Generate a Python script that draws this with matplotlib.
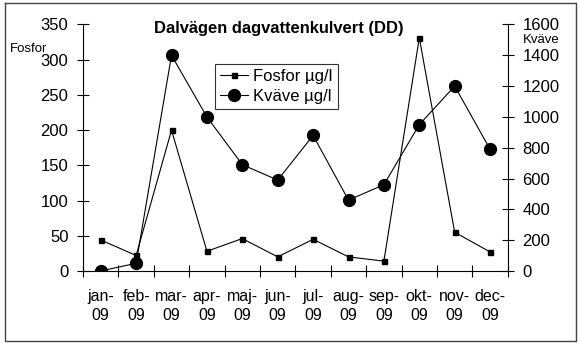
import numpy as np
import matplotlib
matplotlib.use("Agg")
import matplotlib.pyplot as plt
from matplotlib.lines import Line2D

plt.rcParams['font.family'] = ['Liberation Sans', 'DejaVu Sans']

# data
manader = ["jan-\n09", "feb-\n09", "mar-\n09", "apr-\n09", "maj-\n09", "jun-\n09",
           "jul-\n09", "aug-\n09", "sep-\n09", "okt-\n09", "nov-\n09", "dec-\n09"]
fosfor = [44, 22, 200, 28, 46, 20, 45, 20, 14, 331, 55, 27]
kvave = [0, 50, 1400, 1000, 690, 590, 880, 460, 560, 950, 1200, 790]

fig = plt.figure(figsize=(5.79, 3.43), dpi=100)
ax = fig.add_axes([0.1434, 0.21, 0.7336, 0.7186])
ax2 = ax.twinx()

x = np.arange(len(manader))

# Fosfor - sma fyrkanter
ax.plot(x, fosfor, color='black', linewidth=0.8, marker='s', markersize=3.6)
# Kvave - stora cirklar
ax2.plot(x, kvave, color='black', linewidth=0.8, marker='o', markersize=8.5)

ax.set_xlim(-0.5, 11.5)
ax.set_ylim(0, 350)
ax2.set_ylim(0, 1600)
ax.set_yticks(range(0, 351, 50))
ax2.set_yticks(range(0, 1601, 200))

# ticks at category borders, labels in the middle
ax.set_xticks(np.arange(13) - 0.5)
ax.set_xticklabels([])
ax.set_xticks(x, minor=True)
ax.set_xticklabels(manader, minor=True, fontsize=11.5, linespacing=1.35)
ax.tick_params(axis='x', which='minor', length=0, pad=13)
ax.tick_params(axis='x', which='major', direction='inout', length=8, width=0.8)
ax.tick_params(axis='y', direction='inout', length=8, width=0.8, labelsize=12, pad=6.5)
ax2.tick_params(axis='y', direction='inout', length=8, width=0.8, labelsize=12, pad=6.5)

for a in (ax, ax2):
    a.spines['top'].set_visible(False)
    for s in ('left', 'right', 'bottom'):
        a.spines[s].set_linewidth(0.8)
ax.spines['right'].set_visible(False)
ax2.spines['left'].set_visible(False)
ax2.spines['bottom'].set_visible(False)

fig.text(0.481, 0.918, 'Dalvägen dagvattenkulvert (DD)', ha='center', va='center',
         fontsize=11.9, fontweight='bold')
fig.text(0.017, 0.857, 'Fosfor', ha='left', va='center', fontsize=9.5)
fig.text(0.903, 0.883, 'Kväve', ha='left', va='center', fontsize=9.5)

handles = [Line2D([], [], color='black', linewidth=0.8, marker='s', markersize=3.6),
           Line2D([], [], color='black', linewidth=0.8, marker='o', markersize=8.5)]
leg = ax2.legend(handles, ['Fosfor µg/l', 'Kväve µg/l'], loc='upper left',
                 bbox_to_anchor=(0.371, 0.813), bbox_transform=fig.transFigure,
                 frameon=True, fancybox=False, edgecolor='black', fontsize=12,
                 handlelength=1.7, handletextpad=0.3, borderpad=0.3,
                 labelspacing=0.3, borderaxespad=0)
leg.get_frame().set_linewidth(0.8)

# ram runt diagrammet
fig.add_artist(Line2D([0.009, 0.994, 0.994, 0.009, 0.009],
                      [0.99, 0.99, 0.006, 0.006, 0.99], transform=fig.transFigure,
                      color='#444444', linewidth=1.0))

fig.savefig("out.png", dpi=100)
